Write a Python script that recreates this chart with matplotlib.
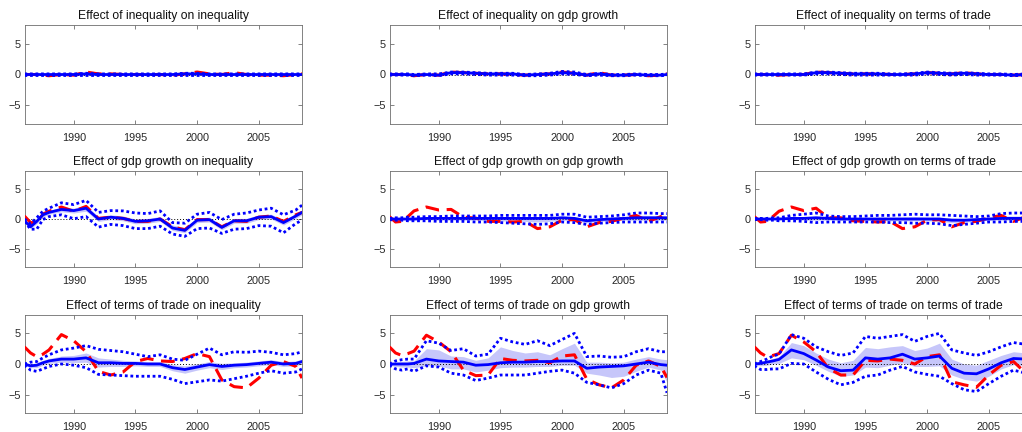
import matplotlib
matplotlib.use("Agg")
import matplotlib.pyplot as plt

plt.rcParams["font.family"] = ["Liberation Sans", "DejaVu Sans"]

# time grid (years); denser at the start where the responses move fast
YEARS = [1986, 1986.5, 1987, 1987.5, 1988, 1989, 1990, 1991, 1992, 1993, 1994,
         1995, 1996, 1997, 1998, 1999, 2000, 2001, 2002, 2003, 2004, 2005,
         2006, 2007, 2008, 2008.5]
X_TICKS = [1990, 1995, 2000, 2005]
Y_TICKS = [-5, 0, 5]

TITLES = [
    "Effect of inequality on inequality",
    "Effect of inequality on gdp growth",
    "Effect of inequality on terms of trade",
    "Effect of gdp growth on inequality",
    "Effect of gdp growth on gdp growth",
    "Effect of gdp growth on terms of trade",
    "Effect of terms of trade on inequality",
    "Effect of terms of trade on gdp growth",
    "Effect of terms of trade on terms of trade",
]

# --- row 1: shocks to inequality -------------------------------------------
P11_RED = [0.0, 0.0, 0.0, -0.1, -0.2, 0.0, -0.1, 0.4, 0.1, 0.1, 0.0, 0.0, 0.0,
           0.0, -0.1, 0.1, 0.4, 0.1, 0.0, 0.3, 0.0, -0.1, -0.1, -0.2, 0.0, 0.1]
P11_MED = [0.0, 0.0, 0.0, 0.0, 0.0, 0.0, 0.0, 0.1, 0.0, 0.0, 0.0, 0.0, 0.0,
           0.0, 0.0, 0.1, 0.1, 0.0, 0.0, 0.0, 0.0, 0.0, 0.0, 0.0, 0.0, 0.0]
P11_LO = [-0.1, -0.1, -0.1, -0.1, -0.1, -0.1, -0.1, -0.1, -0.1, -0.1, -0.1, -0.1, -0.1,
          -0.1, -0.1, -0.1, -0.1, -0.1, -0.1, -0.1, -0.1, -0.1, -0.1, -0.1, -0.1, -0.1]
P11_HI = [0.1, 0.1, 0.1, 0.1, 0.1, 0.1, 0.1, 0.2, 0.1, 0.1, 0.1, 0.1, 0.1,
          0.1, 0.1, 0.2, 0.2, 0.1, 0.1, 0.1, 0.1, 0.1, 0.1, 0.1, 0.1, 0.1]

P12_RED = [0.0, 0.0, 0.0, -0.1, -0.2, 0.0, -0.1, 0.4, 0.3, 0.2, 0.1, 0.1, 0.0,
           -0.1, 0.0, 0.1, 0.4, 0.2, -0.1, 0.3, -0.1, -0.1, 0.0, -0.2, -0.1, 0.1]
P12_MED = [0.0, 0.0, 0.0, 0.0, -0.1, 0.0, -0.1, 0.3, 0.3, 0.2, 0.1, 0.1, 0.1,
           -0.1, 0.0, 0.1, 0.3, 0.2, -0.1, 0.1, -0.1, -0.1, 0.0, -0.1, -0.1, 0.0]
P12_LO = [-0.1, -0.1, -0.1, -0.1, -0.2, -0.1, -0.2, 0.1, 0.1, 0.0, -0.1, -0.1, -0.1,
          -0.2, -0.2, -0.1, 0.1, 0.0, -0.2, -0.1, -0.2, -0.2, -0.1, -0.2, -0.2, -0.1]
P12_HI = [0.1, 0.1, 0.1, 0.1, 0.0, 0.1, 0.1, 0.4, 0.4, 0.3, 0.2, 0.2, 0.2,
          0.0, 0.1, 0.2, 0.5, 0.4, 0.0, 0.2, 0.0, 0.0, 0.1, 0.0, 0.0, 0.1]

P13_RED = [0.0, 0.0, 0.0, -0.1, -0.1, 0.0, 0.0, 0.4, 0.3, 0.2, 0.1, 0.1, 0.1,
           0.0, 0.0, 0.1, 0.3, 0.2, 0.1, 0.3, 0.1, 0.0, 0.0, -0.1, 0.0, 0.0]
P13_MED = [0.0, 0.0, 0.0, 0.0, 0.0, 0.0, 0.0, 0.3, 0.3, 0.2, 0.1, 0.1, 0.1,
           0.0, 0.0, 0.1, 0.3, 0.2, 0.1, 0.2, 0.1, 0.0, 0.0, -0.1, 0.0, 0.0]
P13_LO = [-0.1, -0.1, -0.1, -0.1, -0.1, -0.1, -0.1, 0.1, 0.1, 0.0, -0.1, -0.1, -0.1,
          -0.1, -0.1, -0.1, 0.1, 0.0, -0.1, 0.0, -0.1, -0.1, -0.1, -0.2, -0.1, -0.1]
P13_HI = [0.1, 0.1, 0.1, 0.1, 0.1, 0.1, 0.1, 0.4, 0.4, 0.3, 0.2, 0.2, 0.2,
          0.1, 0.1, 0.2, 0.4, 0.3, 0.2, 0.3, 0.2, 0.1, 0.1, 0.0, 0.1, 0.1]

# --- row 2: shocks to gdp growth --------------------------------------------
P21_RED = [0.5, -0.6, -0.6, 0.8, 1.3, 2.0, 1.3, 2.1, 0.1, 0.3, 0.1, -0.4, -0.4,
           0.0, -1.3, -1.8, -0.1, -0.1, -1.3, -0.3, -0.4, 0.3, 0.5, -0.4, 0.7, 1.1]
P21_MED = [-0.3, -1.3, -0.4, 0.7, 1.1, 1.6, 1.4, 1.8, 0.0, 0.3, 0.1, -0.4, -0.3,
           0.0, -1.5, -1.9, -0.2, -0.1, -1.4, -0.3, -0.3, 0.3, 0.4, -0.6, 0.5, 1.1]
P21_SLO = [-0.6, -1.6, -0.8, 0.3, 0.8, 1.2, 1.0, 1.3, -0.4, -0.1, -0.3, -0.8, -0.7,
           -0.4, -1.9, -2.3, -0.6, -0.5, -1.8, -0.7, -0.7, -0.1, 0.0, -1.0, 0.1, 0.7]
P21_SHI = [0.0, -1.0, 0.0, 1.0, 1.4, 2.0, 1.8, 2.3, 0.4, 0.7, 0.5, 0.0, 0.1,
           0.4, -1.0, -1.4, 0.2, 0.3, -1.0, 0.1, 0.1, 0.7, 0.8, -0.2, 0.9, 1.5]
P21_LO = [-0.4, -1.7, -1.7, -0.1, 0.4, 0.7, 0.05, 0.4, -1.35, -0.9, -1.1, -1.6, -1.6,
          -1.2, -2.5, -2.9, -1.6, -1.5, -2.4, -1.7, -1.6, -1.1, -1.2, -2.3, -0.75, -0.2]
P21_HI = [0.0, -0.8, 0.2, 1.3, 1.8, 2.7, 2.4, 3.1, 1.1, 1.4, 1.35, 1.0, 0.9,
          1.35, -0.6, -0.7, 0.8, 1.1, -0.1, 0.8, 1.0, 1.5, 1.8, 0.7, 1.5, 2.3]

P22_RED = [0.4, -0.5, -0.4, 0.4, 1.35, 2.0, 1.5, 1.6, 0.3, 0.15, -0.4, -0.4, -0.5,
           -0.4, -1.6, -1.3, -0.2, -0.1, -1.3, -0.6, -0.4, 0.15, 0.6, -0.4, 0.4, 1.0]
P22_MED = [0.0, 0.0, 0.0, 0.0, 0.0, 0.1, 0.1, 0.1, 0.1, 0.1, 0.1, 0.1, 0.1,
           0.1, 0.1, 0.1, 0.2, 0.1, -0.3, -0.1, 0.0, 0.1, 0.2, 0.2, 0.2, 0.2]
P22_SLO = [-0.1, -0.1, -0.1, -0.2, -0.2, -0.1, -0.2, -0.2, -0.2, -0.2, -0.3, -0.3, -0.4,
           -0.4, -0.5, -0.4, -0.2, -0.3, -0.6, -0.4, -0.3, -0.2, -0.2, -0.2, -0.2, -0.2]
P22_SHI = [0.1, 0.2, 0.2, 0.2, 0.2, 0.3, 0.3, 0.4, 0.4, 0.4, 0.4, 0.4, 0.4,
           0.3, 0.3, 0.3, 0.5, 0.4, 0.0, 0.2, 0.3, 0.4, 0.6, 0.6, 0.5, 0.5]
P22_LO = [-0.1, -0.2, -0.2, -0.3, -0.3, -0.3, -0.4, -0.4, -0.4, -0.5, -0.5, -0.6, -0.7,
          -0.8, -0.9, -0.8, -0.5, -0.6, -0.9, -0.7, -0.6, -0.5, -0.5, -0.5, -0.5, -0.5]
P22_HI = [0.1, 0.2, 0.2, 0.3, 0.3, 0.4, 0.4, 0.5, 0.5, 0.5, 0.5, 0.6, 0.6,
          0.6, 0.6, 0.6, 0.8, 0.8, 0.3, 0.4, 0.5, 0.7, 1.0, 1.0, 0.9, 0.9]

P23_RED = [0.4, -0.5, -0.4, 0.4, 1.3, 2.0, 1.4, 1.8, 0.2, 0.2, -0.3, -0.4, -0.5,
           -0.4, -1.6, -1.3, -0.2, -0.1, -1.3, -0.6, -0.4, 0.2, 0.6, -0.4, 0.4, 1.0]
P23_MED = [0.0, 0.0, 0.0, 0.0, 0.0, 0.1, 0.1, 0.2, 0.1, 0.0, 0.0, 0.0, 0.0,
           0.0, 0.0, 0.0, 0.0, 0.0, -0.2, -0.2, -0.1, 0.0, 0.1, 0.1, 0.1, 0.1]
P23_SLO = [-0.1, -0.1, -0.1, -0.1, -0.1, -0.1, -0.2, -0.2, -0.2, -0.2, -0.2, -0.2, -0.3,
           -0.3, -0.3, -0.3, -0.3, -0.4, -0.6, -0.5, -0.4, -0.2, -0.2, -0.2, -0.2, -0.2]
P23_SHI = [0.1, 0.1, 0.1, 0.1, 0.1, 0.3, 0.4, 0.5, 0.3, 0.2, 0.2, 0.2, 0.3,
           0.3, 0.3, 0.4, 0.3, 0.3, 0.2, 0.1, 0.1, 0.2, 0.5, 0.5, 0.5, 0.5]
P23_LO = [-0.1, -0.1, -0.2, -0.2, -0.3, -0.3, -0.4, -0.6, -0.5, -0.5, -0.5, -0.5, -0.5,
          -0.6, -0.6, -0.7, -0.7, -0.8, -1.1, -0.9, -0.7, -0.5, -0.5, -0.4, -0.4, -0.4]
P23_HI = [0.1, 0.1, 0.1, 0.2, 0.2, 0.6, 0.8, 1.0, 0.5, 0.4, 0.4, 0.5, 0.6,
          0.6, 0.7, 0.8, 0.7, 0.7, 0.6, 0.5, 0.4, 0.5, 0.9, 1.0, 1.0, 1.0]

# --- row 3: shocks to terms of trade -----------------------------------------
P31_RED = [2.8, 1.8, 1.2, 1.6, 2.3, 4.8, 3.8, 2.0, -1.2, -1.8, -1.3, 0.4, 0.9,
           0.5, 0.4, 0.9, 1.7, 1.2, -2.6, -3.7, -3.9, -2.3, -0.2, 0.4, -0.4, -2.3]
P31_MED = [0.0, -0.3, -0.2, 0.2, 0.5, 0.8, 0.8, 1.0, 0.2, 0.2, 0.1, 0.1, 0.0,
           0.0, -0.6, -0.9, -0.5, -0.1, -0.4, -0.2, -0.1, 0.1, 0.3, 0.0, 0.1, 0.4]
P31_SLO = [-0.2, -0.6, -0.6, -0.2, 0.1, 0.3, 0.2, 0.3, -0.5, -0.4, -0.4, -0.3, -0.4,
           -0.4, -1.1, -1.5, -1.0, -0.6, -0.9, -0.6, -0.5, -0.3, -0.1, -0.4, -0.3, 0.0]
P31_SHI = [0.2, 0.0, 0.2, 0.6, 0.9, 1.3, 1.4, 1.8, 1.0, 0.8, 0.6, 0.5, 0.4,
           0.4, -0.1, -0.3, 0.0, 0.4, 0.1, 0.2, 0.3, 0.5, 0.7, 0.4, 0.5, 0.8]
P31_LO = [-0.2, -1.0, -1.2, -0.8, -0.4, 0.0, -0.2, -0.6, -1.7, -1.8, -1.9, -2.0, -2.0,
          -2.0, -2.5, -3.2, -2.9, -2.6, -2.8, -2.4, -2.0, -1.5, -1.1, -1.5, -1.3, -0.8]
P31_HI = [0.0, 0.3, 0.4, 1.0, 1.5, 2.3, 2.6, 3.0, 2.4, 2.2, 2.0, 1.6, 1.2,
          1.5, 0.8, 0.6, 1.6, 2.6, 1.5, 2.0, 1.9, 2.1, 1.9, 1.5, 1.7, 2.0]

P32_RED = [2.8, 1.8, 1.4, 1.7, 2.1, 4.7, 3.6, 2.0, -1.0, -1.9, -1.8, 0.9, 0.6,
           0.5, 0.6, 0.2, 1.3, 1.5, -2.5, -3.4, -3.9, -2.6, -0.2, 0.5, -0.4, -2.2]
P32_MED = [0.0, 0.0, 0.0, 0.0, 0.1, 0.8, 0.5, 0.4, 0.3, -0.2, -0.1, 0.2, 0.3,
           0.3, 0.4, 0.4, 0.5, 0.5, -0.7, -0.5, -0.4, -0.3, 0.0, 0.3, -0.1, -0.2]
P32_SLO = [-0.2, -0.4, -0.5, -0.5, -0.6, -0.3, -0.3, -0.8, -0.8, -1.3, -1.0, -0.6, -0.5,
           -0.5, -0.4, -0.4, -0.2, -0.2, -1.5, -1.8, -2.2, -2.0, -1.2, -0.5, -1.0, -3.0]
P32_SHI = [0.2, 0.3, 0.4, 0.5, 0.5, 2.5, 2.3, 1.3, 1.2, 0.6, 1.0, 2.8, 2.2,
           1.8, 2.0, 1.5, 2.5, 3.4, 0.3, 0.3, 0.2, 0.3, 0.8, 1.2, 0.8, 0.7]
P32_LO = [-0.2, -0.8, -1.0, -0.8, -1.2, -0.3, -0.5, -1.5, -1.8, -2.7, -2.3, -1.8, -1.8,
          -1.8, -1.5, -1.2, -1.0, -1.5, -3.0, -3.4, -3.9, -3.2, -1.8, -1.0, -1.5, -4.7]
P32_HI = [0.0, 0.5, 0.7, 0.8, 0.8, 3.8, 3.4, 2.2, 2.5, 1.3, 1.6, 4.2, 3.6,
          3.2, 3.8, 3.0, 4.0, 5.0, 1.2, 1.3, 1.1, 1.2, 2.0, 2.5, 2.0, 2.0]

P33_RED = [2.8, 1.8, 1.2, 1.4, 1.7, 4.7, 3.6, 2.0, -0.7, -1.8, -1.8, 0.6, 0.5,
           0.8, 0.6, 0.0, 1.2, 1.5, -2.9, -3.4, -3.8, -1.8, -0.2, 0.4, -1.5, -2.0]
P33_MED = [0.0, 0.1, 0.3, 0.5, 0.75, 2.3, 1.7, 0.65, -0.5, -1.1, -1.0, 1.0, 0.8,
           1.0, 1.6, 0.8, 1.0, 1.3, -0.7, -1.5, -1.6, -0.8, 0.2, 0.9, 0.8, 0.6]
P33_SLO = [-0.2, -0.3, -0.2, 0.0, 0.1, 1.0, 0.7, -0.2, -1.2, -2.0, -1.8, -0.5, -0.6,
           -0.2, 0.2, -0.4, -0.4, -0.3, -1.8, -2.5, -2.8, -2.0, -0.8, -0.1, -0.3, -0.4]
P33_SHI = [0.2, 0.4, 0.6, 0.9, 1.2, 3.5, 3.0, 1.8, 0.8, 0.2, 0.6, 2.7, 2.5,
           2.8, 3.0, 2.2, 2.6, 3.4, 0.8, 0.0, -0.2, 0.6, 1.4, 2.0, 1.8, 1.6]
P33_LO = [-0.3, -0.9, -0.9, -0.8, -0.8, 0.1, 0.0, -1.3, -2.5, -3.4, -3.0, -2.0, -1.8,
          -1.0, -0.4, -1.3, -1.7, -2.0, -3.2, -4.2, -4.5, -3.2, -2.0, -1.0, -1.5, -1.8]
P33_HI = [0.0, 0.4, 0.8, 1.3, 1.6, 4.8, 4.2, 2.8, 2.0, 1.4, 1.8, 4.5, 4.2,
          4.5, 4.8, 3.7, 4.5, 5.0, 2.3, 1.8, 1.4, 2.0, 2.8, 3.5, 3.2, 3.0]

# (red, median, shade lo, shade hi, dotted lo, dotted hi) per panel;
# in the top row the shaded band is as narrow as the dotted one
PANELS = [
    (P11_RED, P11_MED, P11_LO, P11_HI, P11_LO, P11_HI),
    (P12_RED, P12_MED, P12_LO, P12_HI, P12_LO, P12_HI),
    (P13_RED, P13_MED, P13_LO, P13_HI, P13_LO, P13_HI),
    (P21_RED, P21_MED, P21_SLO, P21_SHI, P21_LO, P21_HI),
    (P22_RED, P22_MED, P22_SLO, P22_SHI, P22_LO, P22_HI),
    (P23_RED, P23_MED, P23_SLO, P23_SHI, P23_LO, P23_HI),
    (P31_RED, P31_MED, P31_SLO, P31_SHI, P31_LO, P31_HI),
    (P32_RED, P32_MED, P32_SLO, P32_SHI, P32_LO, P32_HI),
    (P33_RED, P33_MED, P33_SLO, P33_SHI, P33_LO, P33_HI),
]

W, H = 1022, 432
COL_LEFT = [25, 390, 755]
AX_W = 277
ROW_TOP = [25, 171, 315]
ROW_BOT = [124, 267, 413]
SPINE = "#6e6e6e"

fig = plt.figure(figsize=(W / 100, H / 100), dpi=100)

for i, (red, med, slo, shi, lo, hi) in enumerate(PANELS):
    r, c = divmod(i, 3)
    ax = fig.add_axes([COL_LEFT[c] / W, 1 - ROW_BOT[r] / H,
                       AX_W / W, (ROW_BOT[r] - ROW_TOP[r]) / H])
    ax.fill_between(YEARS, slo, shi, color="#c6c6fa", linewidth=0, zorder=1)
    ax.axhline(0, color="k", linestyle=(0, (1, 2)), linewidth=0.7, zorder=2)
    ax.plot(YEARS, red, color="#ff0000", linestyle="--", linewidth=2.2,
            dashes=(4.5, 2.5), zorder=3)
    ax.plot(YEARS, lo, color="#0000ff", linestyle=(0, (1, 1)), linewidth=2.0, zorder=4)
    ax.plot(YEARS, hi, color="#0000ff", linestyle=(0, (1, 1)), linewidth=2.0, zorder=4)
    ax.plot(YEARS, med, color="#0000ff", linewidth=2.0, zorder=5)

    ax.set_xlim(1986.05, 2008.5)
    ax.set_ylim(-8, 8)
    ax.set_xticks(X_TICKS)
    ax.set_yticks(Y_TICKS)
    ax.tick_params(direction="in", length=3, width=0.6, color=SPINE,
                   labelsize=7.8, labelcolor="#262626", top=True, right=True)
    ax.tick_params(axis="x", pad=6.5)
    ax.tick_params(axis="y", pad=3)
    for s in ax.spines.values():
        s.set_color(SPINE)
        s.set_linewidth(0.6)
    ax.set_title(TITLES[i], fontsize=8.7, color="#111111", pad=4)

fig.savefig("out.png", dpi=100)
